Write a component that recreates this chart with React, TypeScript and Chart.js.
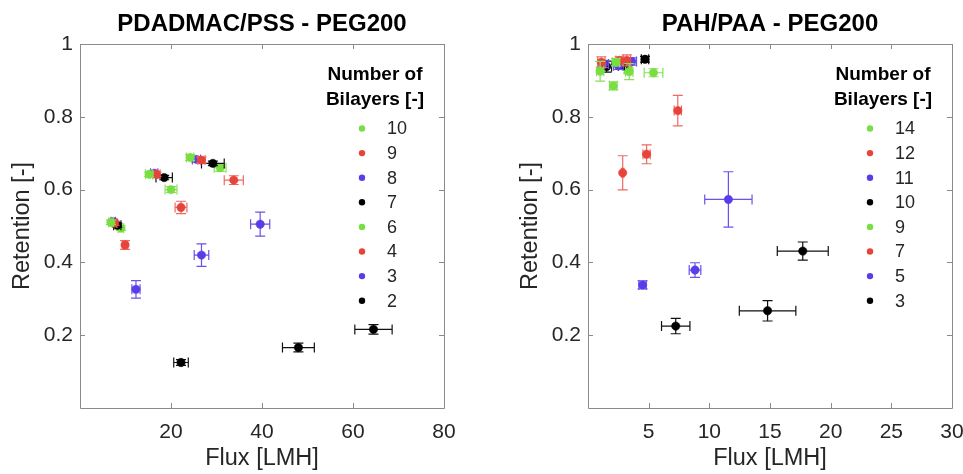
import React, { useEffect, useRef } from 'react';
import { Chart, registerables } from 'chart.js';

Chart.register(...registerables);

// ---------- data ----------
const LEFT_TITLE = 'PDADMAC/PSS - PEG200';
const LEFT_LABELS = ['10', '9', '8', '7', '6', '4', '3', '2'];
const LEFT_FLUX = [
  [6.8, 15.2, 24.2],
  [7.6, 16.8, 26.7],
  [7.3, 16.3, 25.6],
  [8.2, 18.5, 29.2],
  [9.0, 20.0, 30.8],
  [9.9, 22.2, 33.8],
  [12.3, 26.7, 39.6],
  [22.2, 48.0, 64.5],
];
const LEFT_FLUX_ERR = [
  [0.5, 0.8, 0.8],
  [0.5, 0.8, 0.8],
  [0.5, 0.8, 0.9],
  [0.8, 1.8, 2.5],
  [0.6, 1.3, 1.3],
  [0.6, 1.3, 2.1],
  [0.9, 1.6, 2.1],
  [1.6, 3.5, 4.1],
];
const LEFT_RET = [
  [0.51, 0.642, 0.688],
  [0.508, 0.642, 0.681],
  [0.512, 0.645, 0.683],
  [0.502, 0.633, 0.672],
  [0.494, 0.6, 0.66],
  [0.448, 0.551, 0.626],
  [0.326, 0.42, 0.505],
  [0.125, 0.166, 0.216],
];
const LEFT_RET_ERR = [
  [0.006, 0.006, 0.008],
  [0.006, 0.006, 0.008],
  [0.006, 0.006, 0.008],
  [0.006, 0.006, 0.006],
  [0.006, 0.008, 0.01],
  [0.012, 0.017, 0.012],
  [0.024, 0.031, 0.033],
  [0.008, 0.012, 0.013],
];
const LEFT_X_TICKS = [20, 40, 60, 80];

const RIGHT_TITLE = 'PAH/PAA - PEG200';
const RIGHT_LABELS = ['14', '12', '11', '10', '9', '7', '5', '3'];
const RIGHT_FLUX = [
  [1.0, 2.3, 3.4],
  [1.1, 2.6, 3.2],
  [1.3, 2.5, 3.6],
  [1.54, 2.9, 4.7],
  [2.09, 3.3, 5.4],
  [2.86, 4.83, 7.4],
  [4.5, 8.82, 11.57],
  [7.23, 14.8, 17.7],
];
const RIGHT_FLUX_ERR = [
  [0.3, 0.3, 0.3],
  [0.3, 0.3, 0.3],
  [0.4, 0.4, 0.4],
  [0.4, 0.4, 0.3],
  [0.3, 0.3, 0.77],
  [0.1, 0.3, 0.3],
  [0.3, 0.48, 1.95],
  [1.17, 2.33, 2.1],
];
const RIGHT_RET = [
  [0.925, 0.95, 0.924],
  [0.95, 0.955, 0.955],
  [0.945, 0.94, 0.952],
  [0.938, 0.94, 0.958],
  [0.885, 0.93, 0.921],
  [0.646, 0.697, 0.817],
  [0.338, 0.379, 0.573],
  [0.225, 0.267, 0.431],
];
const RIGHT_RET_ERR = [
  [0.027, 0.01, 0.022],
  [0.015, 0.01, 0.015],
  [0.01, 0.01, 0.01],
  [0.015, 0.01, 0.008],
  [0.011, 0.01, 0.011],
  [0.047, 0.026, 0.042],
  [0.011, 0.02, 0.076],
  [0.021, 0.028, 0.025],
];
const RIGHT_X_TICKS = [5, 10, 15, 20, 25, 30];

const Y_TICKS = [0.2, 0.4, 0.6, 0.8, 1];

// ---------- styles ----------
const PALETTE = ['#78de42', '#e8433b', '#5a3de8', '#000000', '#78de42', '#e8433b', '#5a3de8', '#000000'];
const ERR_PALETTE = ['#86e05a', '#ee6a62', '#6a52ea', '#111111', '#86e05a', '#ee6a62', '#6a52ea', '#111111'];
const FONT = '"Liberation Sans", Arial, Helvetica, sans-serif';
const TEXT_COLOR = '#262626';
const AXIS_COLOR = '#8a8a8a';

const errorBarPlugin = {
  id: 'errorBars',
  beforeDatasetDraw(chart: any, args: any) {
    const ds = chart.data.datasets[args.index];
    if (!ds.xErr) return;
    const xs = chart.scales.x;
    const ys = chart.scales.y;
    const ctx = chart.ctx;
    const cap = 5;
    ctx.save();
    ctx.strokeStyle = ds.errColor;
    ctx.lineWidth = 1.2;
    ds.data.forEach((p: any, i: number) => {
      const cx = xs.getPixelForValue(p.x);
      const cy = ys.getPixelForValue(p.y);
      const x0 = xs.getPixelForValue(p.x - ds.xErr[i]);
      const x1 = xs.getPixelForValue(p.x + ds.xErr[i]);
      const y0 = ys.getPixelForValue(p.y - ds.yErr[i]);
      const y1 = ys.getPixelForValue(p.y + ds.yErr[i]);
      ctx.beginPath();
      ctx.moveTo(x0, cy); ctx.lineTo(x1, cy);
      ctx.moveTo(x0, cy - cap); ctx.lineTo(x0, cy + cap);
      ctx.moveTo(x1, cy - cap); ctx.lineTo(x1, cy + cap);
      ctx.moveTo(cx, y0); ctx.lineTo(cx, y1);
      ctx.moveTo(cx - cap, y0); ctx.lineTo(cx + cap, y0);
      ctx.moveTo(cx - cap, y1); ctx.lineTo(cx + cap, y1);
      ctx.stroke();
    });
    ctx.restore();
  },
};

const boxPlugin = {
  id: 'matlabBox',
  afterDraw(chart: any) {
    const { ctx, chartArea: a } = chart;
    const xs = chart.scales.x;
    const ys = chart.scales.y;
    const tl = 5;
    ctx.save();
    ctx.strokeStyle = AXIS_COLOR;
    ctx.lineWidth = 1;
    ctx.beginPath();
    ctx.rect(Math.round(a.left) + 0.5, Math.round(a.top) + 0.5, Math.round(a.right - a.left), Math.round(a.bottom - a.top));
    xs.ticks.forEach((t: any) => {
      const px = Math.round(xs.getPixelForValue(t.value)) + 0.5;
      ctx.moveTo(px, a.bottom); ctx.lineTo(px, a.bottom - tl);
      ctx.moveTo(px, a.top); ctx.lineTo(px, a.top + tl);
    });
    ys.ticks.forEach((t: any) => {
      const py = Math.round(ys.getPixelForValue(t.value)) + 0.5;
      ctx.moveTo(a.left, py); ctx.lineTo(a.left + tl, py);
      ctx.moveTo(a.right, py); ctx.lineTo(a.right - tl, py);
    });
    ctx.stroke();
    ctx.restore();
  },
};

const legendPlugin = {
  id: 'bilayerLegend',
  afterDraw(chart: any) {
    const { ctx, chartArea: a } = chart;
    const right = a.right;
    const top = a.top;
    ctx.save();
    ctx.fillStyle = '#000';
    ctx.textAlign = 'center';
    ctx.textBaseline = 'middle';
    ctx.font = `bold 19px ${FONT}`;
    ctx.fillText('Number of', right - 69, top + 31);
    ctx.fillText('Bilayers [-]', right - 69, top + 56);
    ctx.font = `18px ${FONT}`;
    ctx.textAlign = 'left';
    chart.data.datasets.forEach((ds: any, i: number) => {
      const y = top + 84.5 + i * 24.6;
      ctx.fillStyle = ds.backgroundColor;
      ctx.beginPath();
      ctx.arc(right - 82, y, 3.2, 0, Math.PI * 2);
      ctx.fill();
      ctx.fillStyle = TEXT_COLOR;
      ctx.fillText(ds.label, right - 57, y + 1);
    });
    ctx.restore();
  },
};

function buildConfig(
  title: string,
  labels: string[],
  flux: number[][],
  fluxErr: number[][],
  ret: number[][],
  retErr: number[][],
  xMax: number,
  xTicks: number[],
  padRight: number
): any {
  const datasets = labels.map((lab, i) => ({
    label: lab,
    data: flux[i].map((x, j) => ({ x, y: ret[i][j] })),
    xErr: fluxErr[i],
    yErr: retErr[i],
    errColor: ERR_PALETTE[i],
    backgroundColor: PALETTE[i],
    borderColor: PALETTE[i],
    pointRadius: 4.2,
    pointBorderWidth: 0.5,
    showLine: false,
  }));
  return {
    type: 'scatter',
    data: { datasets },
    options: {
      animation: false,
      responsive: false,
      layout: { padding: { left: 0, right: padRight, top: 0, bottom: 0 } },
      plugins: {
        legend: { display: false },
        tooltip: { enabled: false },
        title: {
          display: true,
          text: title,
          fullSize: false,
          color: '#000',
          font: { family: FONT, size: 24, weight: 'bold', lineHeight: 1.2 },
          padding: { top: 9.6, bottom: 5.6 },
        },
      },
      scales: {
        x: {
          type: 'linear',
          position: 'bottom',
          min: 0,
          max: xMax,
          grid: { display: false, drawTicks: false },
          border: { display: false },
          afterBuildTicks: (s: any) => { s.ticks = xTicks.map((v) => ({ value: v })); },
          afterFit: (s: any) => { s.height = 66; s.paddingLeft = 0; s.paddingRight = 0; },
          ticks: { color: TEXT_COLOR, font: { family: FONT, size: 21 }, padding: 12, maxRotation: 0, autoSkip: false },
          title: { display: true, text: 'Flux [LMH]', color: TEXT_COLOR, font: { family: FONT, size: 23.5, lineHeight: 1.2 }, padding: { top: 0, bottom: 1 } },
        },
        y: {
          type: 'linear',
          position: 'left',
          min: 0,
          max: 1,
          grid: { display: false, drawTicks: false },
          border: { display: false },
          afterBuildTicks: (s: any) => { s.ticks = Y_TICKS.map((v) => ({ value: v })); },
          afterFit: (s: any) => { s.width = 80; s.paddingTop = 0; s.paddingBottom = 0; },
          ticks: {
            color: TEXT_COLOR,
            font: { family: FONT, size: 21 },
            padding: 7,
            autoSkip: false,
            callback: (v: any) => String(Math.round(Number(v) * 10) / 10),
          },
          title: { display: true, text: 'Retention [-]', color: TEXT_COLOR, font: { family: FONT, size: 23.5, lineHeight: 1.2 }, padding: { top: 8, bottom: 0 } },
        },
      },
    },
    plugins: [errorBarPlugin, boxPlugin, legendPlugin],
  };
}

function ChartCanvas(props: { config: () => any; left: number; width: number }) {
  const ref = useRef<HTMLCanvasElement | null>(null);
  useEffect(() => {
    if (!ref.current) return;
    const chart = new Chart(ref.current, props.config());
    return () => chart.destroy();
  }, []);
  return (
    <canvas
      ref={ref}
      width={props.width}
      height={474}
      style={{ position: 'absolute', left: props.left, top: 0, width: props.width, height: 474 }}
    />
  );
}

export default function App() {
  return (
    <div style={{ position: 'absolute', left: 0, top: 0, width: 963, height: 474, background: '#fff' }}>
      <ChartCanvas
        left={0}
        width={480}
        config={() => buildConfig(LEFT_TITLE, LEFT_LABELS, LEFT_FLUX, LEFT_FLUX_ERR, LEFT_RET, LEFT_RET_ERR, 80, LEFT_X_TICKS, 36)}
      />
      <ChartCanvas
        left={508}
        width={455}
        config={() => buildConfig(RIGHT_TITLE, RIGHT_LABELS, RIGHT_FLUX, RIGHT_FLUX_ERR, RIGHT_RET, RIGHT_RET_ERR, 30, RIGHT_X_TICKS, 11)}
      />
    </div>
  );
}
